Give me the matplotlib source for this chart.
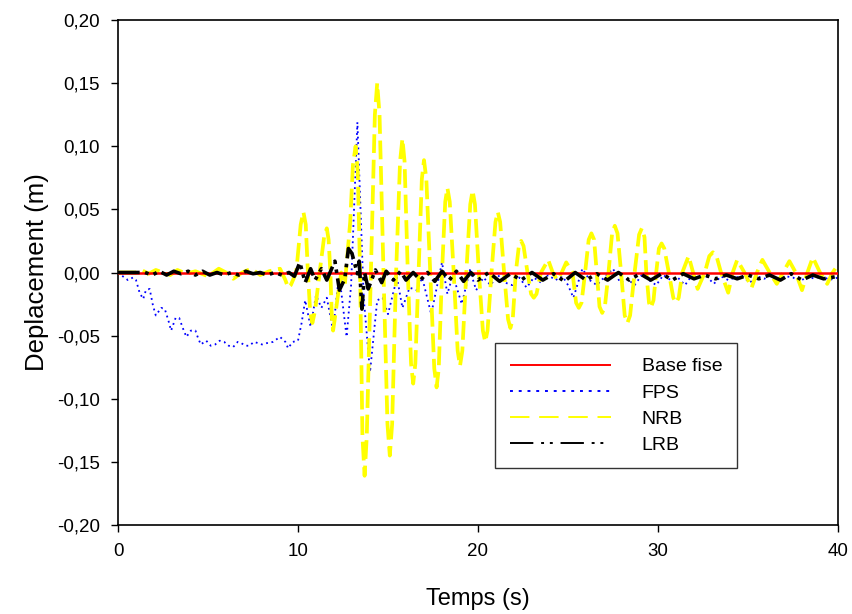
import matplotlib
matplotlib.use("Agg")
import matplotlib.pyplot as plt
import matplotlib.ticker as mticker

plt.rcParams["font.family"] = ["Liberation Sans", "DejaVu Sans"]

# Base fise (fixed base) - stays at zero
base_pts = [(0, 0.0), (40, 0.0)]

# FPS (blue dotted): (time s, displacement m)
fps_pts = [
    (0, 0), (0.17, -0.002), (0.55, -0.006), (0.83, -0.004), (1.0, -0.006), (1.2, -0.016),
    (1.4, -0.021), (1.55, -0.014), (1.76, -0.013), (1.94, -0.026), (2.1, -0.034), (2.4, -0.028),
    (2.6, -0.029), (2.8, -0.038), (2.95, -0.046), (3.2, -0.036), (3.4, -0.036), (3.6, -0.044),
    (3.8, -0.051), (4.05, -0.046), (4.3, -0.046), (4.45, -0.052), (4.6, -0.057), (4.9, -0.054),
    (5.15, -0.058), (5.4, -0.057), (5.65, -0.054), (5.9, -0.055), (6.15, -0.058), (6.4, -0.059),
    (6.65, -0.055), (6.85, -0.056), (7.1, -0.058), (7.3, -0.058), (7.55, -0.055), (7.8, -0.056),
    (8.0, -0.057), (8.25, -0.056), (8.6, -0.055), (9.0, -0.051), (9.3, -0.055), (9.45, -0.060),
    (9.7, -0.055), (10.0, -0.054), (10.2, -0.040), (10.4, -0.022), (10.7, -0.043), (11.0, -0.018),
    (11.3, -0.028), (11.6, -0.020), (11.95, -0.046), (12.2, -0.012), (12.4, -0.015), (12.7, -0.051),
    (12.95, -0.010), (13.3, 0.119), (13.65, -0.020), (14.0, -0.079), (14.4, -0.022), (14.7, -0.020),
    (15.0, -0.033), (15.5, -0.004), (15.8, -0.028), (16.2, -0.012), (16.6, -0.014), (16.9, -0.004),
    (17.4, -0.033), (18.0, 0.008), (18.3, -0.017), (18.6, -0.002), (19.1, -0.025), (19.55, 0.002),
    (19.9, -0.014), (20.3, -0.004), (20.7, -0.010), (21.1, -0.002), (21.5, -0.008), (21.9, -0.010),
    (22.3, -0.004), (22.7, -0.012), (23.1, -0.004), (23.5, -0.008), (23.9, -0.002), (24.3, -0.006),
    (24.7, -0.003), (25.0, -0.010), (25.3, -0.020), (25.8, 0.003), (26.2, -0.006), (26.6, -0.010),
    (27.0, -0.004), (27.5, 0.003), (27.9, -0.008), (28.3, -0.005), (28.7, -0.010), (29.1, -0.002),
    (29.5, -0.006), (29.9, -0.010), (30.3, -0.002), (30.7, -0.006), (31.1, -0.004), (31.5, -0.010),
    (31.9, -0.002), (32.3, -0.005), (32.7, -0.003), (33.1, -0.009), (33.5, -0.003), (33.9, -0.006),
    (34.3, -0.004), (34.7, -0.003), (35.1, -0.008), (35.5, -0.003), (35.9, -0.005), (36.3, -0.002),
    (36.7, -0.006), (37.1, -0.003), (37.5, -0.004), (37.9, -0.007), (38.3, -0.003), (38.7, -0.005),
    (39.1, -0.002), (39.5, -0.006), (40.0, -0.004),
]

# NRB (yellow dashed)
nrb_pts = [
    (0, 0), (1.0, 0.0), (1.3, 0.002), (1.7, -0.001), (2.1, 0.002), (2.5, 0.0), (2.9, -0.002),
    (3.3, 0.002), (3.8, -0.001), (4.3, 0.001), (5.0, -0.003), (5.6, 0.003), (6.0, 0.0),
    (6.4, -0.005), (6.9, 0.0), (7.4, 0.003), (7.9, -0.002), (8.4, 0.001), (9.0, 0.003),
    (9.3, -0.006), (9.45, -0.012), (9.6, -0.010), (9.9, 0.0),
    (10.15, 0.038), (10.3, 0.048), (10.43, 0.038), (10.55, 0.0),
    (10.68, -0.032), (10.8, -0.040), (10.95, -0.030), (11.2, 0.0),
    (11.45, 0.028), (11.6, 0.035), (11.7, 0.026), (11.8, 0.0),
    (11.88, -0.036), (11.95, -0.046), (12.05, -0.036), (12.2, -0.020), (12.4, 0.0), (12.6, -0.010),
    (12.9, 0.040), (13.05, 0.085), (13.2, 0.100), (13.32, 0.080), (13.45, 0.0),
    (13.58, -0.130), (13.7, -0.161), (13.82, -0.130), (14.05, 0.0),
    (14.27, 0.125), (14.4, 0.150), (14.53, 0.125), (14.75, 0.0),
    (14.97, -0.120), (15.1, -0.145), (15.23, -0.120), (15.45, 0.0),
    (15.67, 0.088), (15.8, 0.106), (15.92, 0.088), (16.1, 0.0),
    (16.28, -0.072), (16.4, -0.088), (16.52, -0.072), (16.7, 0.0),
    (16.88, 0.074), (17.0, 0.089), (17.13, 0.074), (17.35, 0.0),
    (17.57, -0.076), (17.7, -0.091), (17.82, -0.076), (18.0, 0.0),
    (18.18, 0.056), (18.3, 0.067), (18.43, 0.056), (18.65, 0.0),
    (18.87, -0.062), (19.0, -0.074), (19.13, -0.062), (19.35, 0.0),
    (19.57, 0.054), (19.7, 0.065), (19.83, 0.054), (20.05, 0.0),
    (20.27, -0.046), (20.4, -0.055), (20.53, -0.046), (20.75, 0.0),
    (20.97, 0.040), (21.1, 0.048), (21.23, 0.040), (21.45, 0.0),
    (21.67, -0.037), (21.8, -0.044), (21.93, -0.037), (22.1, 0.0),
    (22.27, 0.021), (22.4, 0.025), (22.53, 0.021), (22.75, 0.0),
    (22.95, -0.017), (23.1, -0.020), (23.25, -0.017), (23.5, 0.0),
    (23.9, 0.010), (24.15, 0.0), (24.4, -0.006), (24.65, 0.0), (24.9, 0.008), (25.25, 0.0),
    (25.45, -0.024), (25.6, -0.028), (25.75, -0.024), (25.95, 0.0),
    (26.15, 0.026), (26.3, 0.031), (26.45, 0.026), (26.6, 0.0),
    (26.75, -0.027), (26.9, -0.032), (27.05, -0.027), (27.25, 0.0),
    (27.45, 0.031), (27.6, 0.037), (27.75, 0.031), (27.95, 0.0),
    (28.15, -0.034), (28.3, -0.040), (28.45, -0.034), (28.7, 0.0),
    (28.95, 0.030), (29.1, 0.035), (29.25, 0.028), (29.35, 0.0),
    (29.5, -0.024), (29.6, -0.028), (29.75, -0.022), (29.9, 0.0),
    (30.05, 0.019), (30.2, 0.023), (30.35, 0.019), (30.6, 0.0),
    (30.85, -0.020), (31.0, -0.024), (31.15, -0.020), (31.35, 0.0),
    (31.7, 0.013), (31.95, 0.0), (32.2, -0.013), (32.6, 0.0),
    (32.85, 0.013), (33.05, 0.016), (33.25, 0.013), (33.5, 0.0),
    (33.9, -0.016), (34.15, 0.0), (34.4, 0.010), (34.8, 0.0), (35.2, -0.012), (35.5, 0.0),
    (35.8, 0.010), (36.2, 0.0), (36.6, -0.009), (36.95, 0.0), (37.3, 0.009), (37.65, 0.0),
    (38.0, -0.014), (38.3, 0.0), (38.6, 0.012), (39.0, 0.0), (39.4, -0.009), (39.7, 0.0),
    (40.0, 0.006),
]

# LRB (black dash-dot-dot)
lrb_pts = [
    (0, 0), (1.5, 0.0), (1.9, -0.002), (2.3, 0.001), (2.7, -0.002), (3.1, 0.001), (3.5, -0.001),
    (3.9, 0.001), (4.3, -0.002), (4.7, 0.001), (5.1, -0.002), (5.5, 0.0), (5.9, -0.002), (6.3, 0.0),
    (6.7, -0.002), (7.1, 0.001), (7.5, -0.001), (7.9, 0.0), (8.3, -0.002), (8.7, 0.0), (9.1, -0.002),
    (9.5, 0.0), (9.8, -0.003), (10.1, 0.008), (10.4, -0.008), (10.7, 0.003), (10.95, -0.006),
    (11.3, 0.003), (11.6, -0.006), (12.05, 0.009), (12.3, -0.014), (12.6, -0.005), (12.8, 0.019),
    (13.0, 0.015), (13.3, -0.001), (13.4, 0.009), (13.55, -0.029), (13.7, 0.0), (13.9, -0.013),
    (14.3, 0.002), (14.65, -0.008), (14.9, 0.001), (15.3, -0.006), (15.7, 0.001), (16.0, -0.006),
    (16.4, 0.0), (16.8, -0.006), (17.2, 0.0), (17.6, -0.007), (18.0, 0.001), (18.4, -0.006),
    (18.8, 0.001), (19.2, -0.007), (19.6, 0.0), (20.0, -0.006), (20.6, 0.0), (21.2, -0.007),
    (21.8, -0.001), (22.4, -0.006), (23.0, 0.0), (23.6, -0.006), (24.2, -0.001), (24.8, -0.007),
    (25.4, 0.0), (26.0, -0.006), (26.6, -0.001), (27.2, -0.006), (27.8, 0.0), (28.4, -0.006),
    (29.0, -0.001), (29.6, -0.006), (30.2, -0.001), (30.8, -0.006), (31.4, -0.001), (32.0, -0.005),
    (32.6, -0.002), (33.2, -0.005), (33.8, -0.002), (34.4, -0.005), (35.0, -0.002), (35.6, -0.005),
    (36.2, -0.002), (36.8, -0.006), (37.4, -0.001), (38.0, -0.006), (38.6, -0.002), (39.2, -0.005),
    (40.0, -0.003),
]

fig = plt.figure(figsize=(8.52, 6.14), dpi=100)
ax = fig.add_axes([118 / 852, 1 - 525 / 614, 720 / 852, 505 / 614])


def xy(pts):
    return [p[0] for p in pts], [p[1] for p in pts]


ax.plot(*xy(fps_pts), color="#0000ff", linestyle=(0, (1, 2)), linewidth=1.3, label="FPS", zorder=2)
ax.plot(*xy(nrb_pts), color="#ffff00", linestyle=(0, (5, 1.8)), linewidth=2.7, label="NRB", zorder=3)
ax.plot(*xy(base_pts), color="#ff0000", linewidth=1.8, label="Base fise", zorder=4)
ax.plot(*xy(lrb_pts), color="black", linestyle=(0, (6, 1.5, 1, 1.5, 1, 1.5)), linewidth=2.6,
        label="LRB", zorder=5)

ax.set_xlim(0, 40)
ax.set_ylim(-0.20, 0.20)
ax.set_xticks([0, 10, 20, 30, 40])
ax.set_yticks([-0.20, -0.15, -0.10, -0.05, 0.0, 0.05, 0.10, 0.15, 0.20])
ax.yaxis.set_major_formatter(mticker.FuncFormatter(lambda v, _: f"{v:.2f}".replace(".", ",")))
ax.tick_params(direction="out", length=5, width=1, labelsize=13.5, pad=8, top=False, right=False)
for s in ax.spines.values():
    s.set_linewidth(1.2)

ax.set_xlabel("Temps (s)", fontsize=17, labelpad=20)
ax.set_ylabel("Deplacement (m)", fontsize=18.5, labelpad=6)

h, l = ax.get_legend_handles_labels()
order = [l.index(n) for n in ["Base fise", "FPS", "NRB", "LRB"]]
leg = ax.legend([h[i] for i in order], [l[i] for i in order],
                loc="upper left", bbox_to_anchor=(0.5236, 0.36), borderaxespad=0, fontsize=14,
                handlelength=5.2, handletextpad=1.6, labelspacing=0.44,
                borderpad=0.75, frameon=True, fancybox=False)
leg.get_frame().set_edgecolor("black")
leg.get_frame().set_linewidth(1.0)
# thinner handle lines in the legend, like the original
styles = [(0, ()), (0, (1.5, 3)), (0, (10, 5)), (0, (12, 4, 1.5, 3, 1.5, 4))]
for line, ls in zip(leg.get_lines(), styles):
    line.set_linewidth(1.4)
    line.set_linestyle(ls)

plt.savefig("out.png", dpi=100)
